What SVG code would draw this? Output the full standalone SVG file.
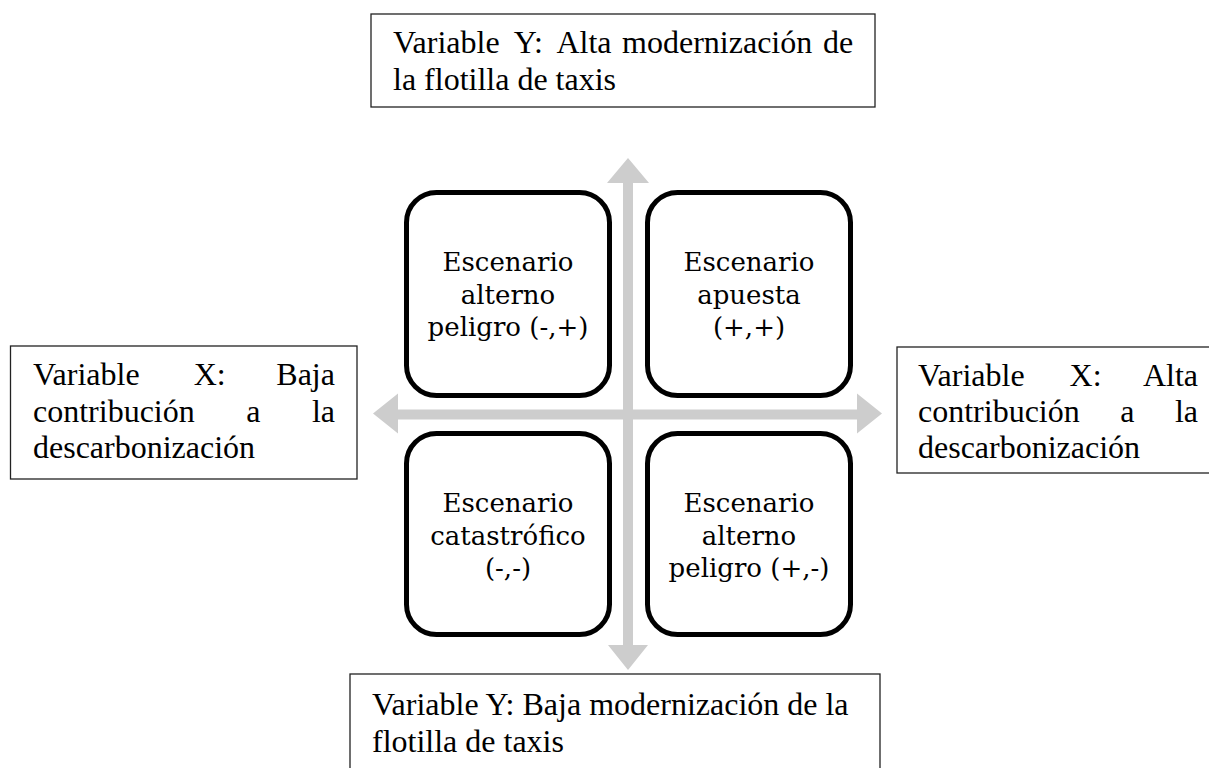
<svg xmlns="http://www.w3.org/2000/svg" width="1209" height="768" viewBox="0 0 1209 768">
<style>
.vb{fill:#fff;stroke:#222;stroke-width:1.3}
.vt{font-family:"Liberation Serif","Times New Roman",serif;font-size:32px;fill:#000}
.sc{fill:#fff;stroke:#000;stroke-width:5}
.st{font-family:"DejaVu Serif",serif;font-size:26px;fill:#000;text-anchor:middle}
.ar{fill:#cdcdcd}
</style>
<rect width="1209" height="768" fill="#fff"/>
<g id="connectors">
<polygon class="ar" points="628,158 649,183 633,183 633,645 648,645 628,670 608,645 623,645 623,183 607,183"/>
<polygon class="ar" points="373,413.5 398,393.5 398,409.5 857,409.5 857,393.5 882,413.5 857,433.5 857,419.5 398,419.5 398,433.5"/>
</g>
<g id="var-y-alta">
<rect class="vb" x="371" y="14" width="504" height="93"/>
<text class="vt" y="53"><tspan x="393">Variable</tspan><tspan x="513.8">Y:</tspan><tspan x="556.4">Alta</tspan><tspan x="622.1">modernización</tspan><tspan x="822.9">de</tspan></text>
<text class="vt" x="393" y="90">la flotilla de taxis</text>
</g>
<g id="var-y-baja">
<rect class="vb" x="350" y="674" width="530" height="95"/>
<text class="vt" x="372" y="715">Variable Y: Baja modernización de la</text>
<text class="vt" x="372" y="752">flotilla de taxis</text>
</g>
<g id="var-x-baja">
<rect class="vb" x="10.5" y="346" width="346.5" height="133"/>
<text class="vt" y="385"><tspan x="33">Variable</tspan><tspan x="193.7">X:</tspan><tspan x="276.3">Baja</tspan></text>
<text class="vt" y="422"><tspan x="33">contribución</tspan><tspan x="246.3">a</tspan><tspan x="311.9">la</tspan></text>
<text class="vt" x="33" y="458">descarbonización</text>
</g>
<g id="var-x-alta">
<rect class="vb" x="897" y="347" width="330" height="126"/>
<text class="vt" y="386"><tspan x="918">Variable</tspan><tspan x="1069.6">X:</tspan><tspan x="1142.9">Alta</tspan></text>
<text class="vt" y="422"><tspan x="918">contribución</tspan><tspan x="1120.3">a</tspan><tspan x="1174.9">la</tspan></text>
<text class="vt" x="918" y="458">descarbonización</text>
</g>
<g id="esc-tl">
<rect class="sc" x="406.5" y="192.5" width="203" height="203" rx="30"/>
<text class="st" x="508" y="271">Escenario</text>
<text class="st" x="508" y="304">alterno</text>
<text class="st" x="508" y="336">peligro (-,+)</text>
</g>
<g id="esc-tr">
<rect class="sc" x="647.5" y="192.5" width="203" height="203" rx="30"/>
<text class="st" x="749" y="271">Escenario</text>
<text class="st" x="749" y="304">apuesta</text>
<text class="st" x="749" y="336">(+,+)</text>
</g>
<g id="esc-bl">
<rect class="sc" x="406.5" y="433.5" width="203" height="201" rx="30"/>
<text class="st" x="508" y="512">Escenario</text>
<text class="st" x="508" y="545">catastrófico</text>
<text class="st" x="508" y="577">(-,-)</text>
</g>
<g id="esc-br">
<rect class="sc" x="647.5" y="433.5" width="203" height="201" rx="30"/>
<text class="st" x="749" y="512">Escenario</text>
<text class="st" x="749" y="545">alterno</text>
<text class="st" x="749" y="577">peligro (+,-)</text>
</g>
</svg>
